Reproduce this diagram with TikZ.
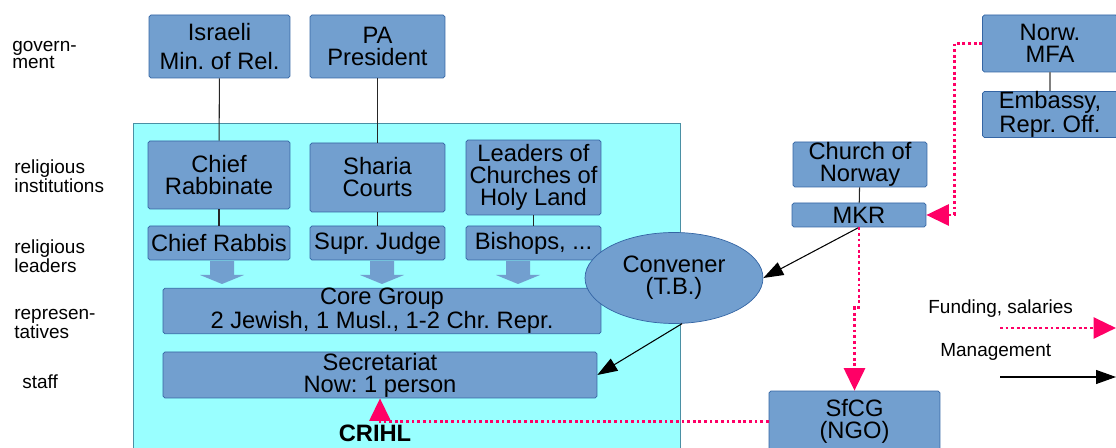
\documentclass[tikz,border=0pt]{standalone}
\usepackage{fontspec}
\setmainfont{Liberation Sans}
\usetikzlibrary{arrows.meta,shapes.geometric}
\definecolor{BoxBlue}{HTML}{729FCF}
\definecolor{BoxEdge}{HTML}{3465A4}
\definecolor{CRcyan}{HTML}{99FFFF}
\definecolor{CRedge}{HTML}{4A90A4}
\definecolor{FundPink}{HTML}{FF0066}
\newcommand{\boxfont}{\fontsize{13.5}{12.5}\selectfont}
\newcommand{\lblfont}{\fontsize{10.8}{9.8}\selectfont}
\frenchspacing

\begin{document}
\begin{tikzpicture}[x=0.02cm,y=-0.02cm,
  box/.style={draw=BoxEdge,fill=BoxBlue,rounded corners=1pt,align=center,inner sep=0pt,font=\boxfont},
  lbl/.style={anchor=west,align=left,font=\lblfont,inner sep=0pt},
  link/.style={draw=black!85,line width=0.6pt},
  mgmt/.style={line width=0.6pt,-{Triangle[length=0.4cm,width=0.28cm]}},
  fund/.style={FundPink,line width=1.6pt,dash pattern=on 1.6pt off 1.6pt,-{Triangle[length=0.45cm,width=0.42cm]}}]
  \useasboundingbox (0,0) rectangle (1116,448);
  % row labels
  \node[lbl] (lgov) at (12,55) {govern-\\ment};
  \node[lbl] (linst) at (14,176) {religious\\institutions};
  \node[lbl] (llead) at (14,256) {religious\\leaders};
  \node[lbl] (lrep) at (14,324) {represen-\\tatives};
  \node[lbl] (lstaff) at (22,382) {staff};
  % CRIHL area
  \draw[CRedge,fill=CRcyan] (133,123) rectangle (680,460);
  \node[font=\boxfont\bfseries] (crihl) at (375,433) {CRIHL};
  % government
  \node[box,minimum width=2.82cm,minimum height=1.26cm] (israeli) at (219.5,46.5) {Israeli\\[4.5pt]Min. of Rel.};
  \node[box,minimum width=2.7cm,minimum height=1.26cm] (pa) at (377.5,46.5) {PA\\President};
  % institutions and leaders
  \node[box,minimum width=2.84cm,minimum height=1.36cm] (rabbinate) at (219,175) {Chief\\Rabbinate};
  \node[box,minimum width=2.7cm,minimum height=1.38cm] (sharia) at (377.5,177.5) {Sharia\\Courts};
  \node[box,minimum width=2.7cm,minimum height=1.5cm] (churches) at (533.5,177.5) {Leaders of\\Churches of\\Holy Land};
  \node[box,minimum width=2.84cm,minimum height=0.68cm] (rabbis) at (219,243) {Chief Rabbis};
  \node[box,minimum width=2.7cm,minimum height=0.68cm] (judge) at (377.5,243) {Supr. Judge};
  \node[box,minimum width=2.7cm,minimum height=0.68cm] (bishops) at (533.5,243) {Bishops, ...};
  \foreach \x in {222,382,518}
    \fill[BoxBlue] (\x-12,261) -- (\x+12,261) -- (\x+12,275) -- (\x+22,275) -- (\x,284) -- (\x-22,275) -- (\x-12,275) -- cycle;
  \node[box,minimum width=8.76cm,minimum height=0.8cm] (core) at (382,311) {Core Group\\2 Jewish, 1 Musl., 1-2 Chr. Repr.};
  \node[box,minimum width=8.68cm,minimum height=0.92cm] (secr) at (380,375) {Secretariat\\Now: 1 person};
  \node[box,ellipse,minimum width=3.56cm,minimum height=1.82cm] (convener) at (674,278) {Convener\\(T.B.)};
  % Norwegian side
  \node[box,minimum width=2.68cm,minimum height=0.9cm] (chnor) at (860,164.5) {Church of\\Norway};
  \node[box,minimum width=2.68cm,minimum height=0.48cm] (mkr) at (859,215) {MKR};
  \node[box,minimum width=2.7cm,minimum height=1.14cm] (mfa) at (1050,43.5) {Norw.\\MFA};
  \node[box,minimum width=2.7cm,minimum height=0.9cm] (embassy) at (1050,114.5) {Embassy,\\Repr. Off.};
  \node[box,minimum width=3.42cm,minimum height=1.22cm] (sfcg) at (854.5,421.5) {SfCG\\(NGO)};
  % links
  \draw[link] (israeli) -- (rabbinate);
  \draw[link] (pa) -- (sharia);
  \draw[link] (rabbinate) -- (rabbis);
  \draw[link] (sharia) -- (judge);
  \draw[link] (churches) -- (bishops);
  \draw[link] (chnor) -- (mkr);
  \draw[link,draw=gray] (mfa) -- (embassy);
  % management
  \draw[mgmt] (mkr.south) -- (convener.east);
  \draw[mgmt] (convener.-80) -- (secr.east);
  % funding
  \draw[fund] (mfa.west) -- ++(-28,0) |- (mkr.east);
  \draw[fund] (mkr.south) -- ++(0,80) -| (sfcg.north);
  \draw[fund] (sfcg.west) -| (secr.south);
  % legend
  \node[lbl] (lfund) at (928,309) {Funding, salaries};
  \node[lbl] (lmgmt) at (940,352) {Management};
  \coordinate (fundA) at (1000,328);
  \coordinate (fundB) at (1116,328);
  \coordinate (mgmtA) at (1000,377);
  \coordinate (mgmtB) at (1116,377);
  \draw[fund] (fundA) -- (fundB);
  \draw[mgmt] (mgmtA) -- (mgmtB);
\end{tikzpicture}
\end{document}
